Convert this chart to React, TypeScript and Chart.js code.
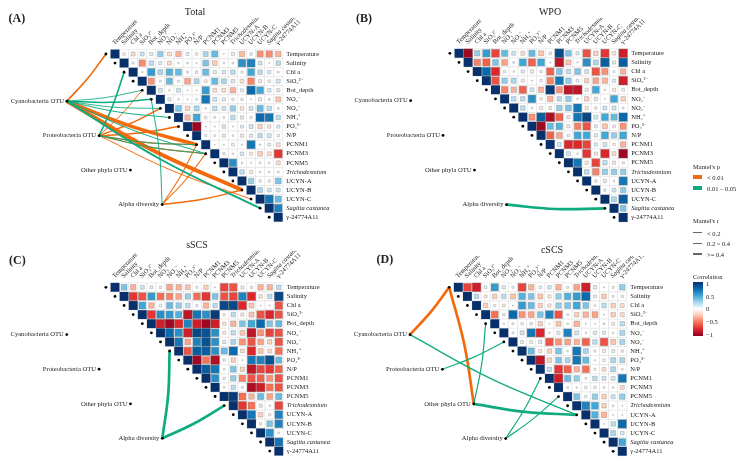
import React, { useEffect, useRef } from "react";
import { Chart, registerables } from "chart.js";

Chart.register(...registerables);

const variables = ["Temperature", "Salinity", "Chl a", "SiO₃²⁻", "Bot_depth", "NO₃⁻", "NO₂⁻", "NH₄⁺", "PO₄³⁻", "N/P", "PCNM1", "PCNM3", "PCNM5", "Trichodesmium", "UCYN-A", "UCYN-B", "UCYN-C", "Sagitta castanea", "γ-24774A11"];
const italicVariables = ["Trichodesmium", "Sagitta castanea"];
const groups = ["Cyanobacteria OTU", "Proteobacteria OTU", "Other phyla OTU", "Alpha diversity"];
const groupX = [-5.3, -1.75, 1.7, 5.2];
const groupY = [5.2, 9.0, 12.8, 16.6];

const totalCorr = [
  [-.06, -.15, .15, .1, .3, -.15, -.3, .08, -.06, .25, .4, .01, -.1, -.28, .06, -.4, -.42, -.3],
  [.04, -.42, .2, .1, -.15, .02, .03, .01, .35, -.22, -.02, -.03, .6, .65, .15, .01, .2],
  [.01, .55, .25, .45, .4, .04, .07, .4, .1, .12, .2, .04, .5, .2, .1, -.03],
  [-.4, .03, .4, -.04, -.35, .25, -.08, .4, .25, .12, -.15, -.45, -.1, -.06, .15],
  [.15, .02, .15, .01, .01, .55, -.15, -.15, -.3, .08, .75, .5, .12, .1],
  [.1, .02, -.01, .03, .7, .15, .1, .05, .05, .01, .1, .03, -.25],
  [.35, -.2, .25, .02, .2, .15, .3, -.12, .15, .4, .2, .03],
  [-.3, .5, -.06, .04, .03, .2, .1, .05, .75, .7, .2],
  [-.97, -.01, .01, .12, -.01, .08, .15, -.2, -.1, .1],
  [.04, .03, -.1, -.02, -.1, .1, .2, .15, .05],
  [-.005, .01, -.07, .01, .7, .02, .08, -.15],
  [.05, -.02, .12, -.08, -.22, -.15, -.7],
  [.6, .02, .01, .03, .02, -.15],
  [.2, -.1, .02, .02, .03],
  [.3, .05, .05, .35],
  [.25, .15, .15],
  [.7, .4],
  [.65],
];
const wpoCorr = [
  [-.95, .3, .55, -.65, .4, .15, -.15, .4, -.25, -.06, .88, .35, .1, -.6, -.2, -.7, -.12, -.8],
  [-.45, -.55, .35, -.35, .03, .5, -.55, .5, .01, -.85, -.25, .01, .6, .25, .8, .1, .8],
  [.75, -.75, .05, .02, .1, -.1, .05, -.55, .35, .2, .35, .15, -.6, -.4, .03, -.3],
  [-.6, .3, .25, -.08, .01, .05, -.45, .7, .3, .07, -.2, -.35, -.3, .1, -.8],
  [-.45, -.3, -.55, .15, -.3, .95, -.4, -.85, -.85, -.1, .5, .02, -.1, .07],
  [.2, .2, .6, -.05, -.3, .2, .3, .02, -.2, .1, .01, .5, -.2],
  [.2, .02, -.1, -.08, .3, .35, .7, -.1, -.05, .15, .15, -.03],
  [-.4, .8, -.9, -.55, .1, .7, .9, .15, .5, .4, .75],
  [-.95, .4, .45, -.1, -.45, -.6, .08, -.25, -.06, -.4],
  [-.55, -.35, .06, .5, .5, .1, .5, .3, .5],
  [.15, -.75, -.75, -.65, .1, .15, -.05, -.3],
  [.15, .02, -.7, -.1, -.75, -.15, -.95],
  [.7, -.1, -.65, .2, -.1, -.05],
  [.2, -.45, .3, .3, .3],
  [.05, .1, .02, .7],
  [.05, .15, .3],
  [.25, .8],
  [.35],
];
const sscsCorr = [
  [.35, -.3, .15, .08, -.05, -.35, -.3, -.25, .04, -.2, .01, -.65, -.6, .08, .05, -.3, -.3, .2],
  [-.7, -.6, .55, -.5, -.45, -.35, .3, -.5, -.7, .35, -.6, -.65, .65, -.75, -.12, .2, .9],
  [.5, -.3, .06, .4, .3, .2, .05, -.3, .2, .9, .9, -.75, -.25, .01, .01, -.6],
  [-.7, .6, .55, .45, -.85, .7, .6, .95, -.05, .2, -.1, -.25, -.6, -.75, -.6],
  [-.8, -.95, -.75, .65, -.8, -.95, -.8, -.1, -.3, .35, .5, .75, .35, .4],
  [.75, .6, -.8, .9, .85, .6, -.08, .2, -.25, -.85, -.4, -.65, -.6],
  [.7, -.35, .65, .85, .6, .1, .25, -.4, -.6, -.35, -.2, -.6],
  [-.6, .8, .8, .6, .4, .75, -.15, -.75, -.25, -.15, -.5],
  [-.95, -.5, -.9, .05, -.2, -.01, .7, .65, .85, .4],
  [.8, .7, .02, .35, -.2, -.85, -.65, -.7, -.55],
  [.6, .05, .3, -.45, -.6, -.55, -.4, -.6],
  [.02, .2, .04, -.9, -.8, -.5, -.6],
  [.95, -.5, -.3, .4, -.35, .4],
  [-.7, -.5, .1, .02, -.65],
  [.7, -.2, -.05, .65],
  [-.05, .35, .65],
  [.6, -.03],
  [.7],
];
const cscsCorr = [
  [-.65, -.8, .07, .55, .1, .04, -.65, -.3, .07, .12, -.3, -.04, -.35, -.8, -.12, -.01, -.04, .3],
  [.2, -.08, -.2, .2, -.25, .45, .35, -.25, -.1, .3, .45, .55, .75, .08, -.22, .03, -.05],
  [-.2, .04, -.07, -.01, .55, .4, -.2, -.1, .3, .35, .5, .35, .02, .2, -.2, -.15],
  [-.5, .06, .75, -.4, -.35, .35, .65, -.6, .03, -.2, -.3, -.35, -.01, -.2, -.15],
  [.02, .04, .05, .06, -.2, -.01, -.25, -.02, -.3, -.01, .01, -.03, -.08, .2],
  [.03, .15, .7, -.75, .02, .1, .65, .15, .02, .1, .08, .02, .25],
  [-.08, -.07, .1, -.6, -.4, -.35, -.3, -.55, .2, -.6, -.25, .25],
  [.4, -.1, -.2, .35, .02, .7, .25, -.04, -.08, .08, -.05],
  [-.85, -.2, .35, .25, .7, .4, .01, -.06, .25, .25],
  [.2, -.7, -.55, -.3, -.5, -.04, -.15, .25, -.03],
  [-.8, .4, .3, .03, .2, .15, .15, .7],
  [.03, .02, -.05, .05, .03, -.02, -.15],
  [.35, .05, .3, -.2, .15, .3],
  [.65, .5, -.2, .03, .01],
  [.45, -.3, .01, .01],
  [.01, .2, .75],
  [.25, .12],
  [.5],
];

// Mantel links: [group index, variable index, Mantel's p class (0: < 0.01, 1: 0.01-0.05), Mantel's r]
const totalLinks = [
  [0, 0, 0, .26], [0, 4, 1, .1], [0, 5, 1, .22], [0, 6, 1, .1], [0, 7, 1, .12], [0, 10, 0, .62], [0, 11, 1, .12], [0, 15, 0, .7], [0, 17, 1, .3],
  [1, 2, 1, .24], [1, 4, 0, .12], [1, 6, 0, .22], [1, 8, 0, .22], [1, 10, 0, .2], [1, 10, 1, .1], [1, 11, 0, .16], [1, 11, 1, .1], [1, 16, 0, .12],
  [3, 5, 1, .12], [3, 10, 0, .14], [3, 11, 0, .14], [3, 15, 0, .22],
];
const wpoLinks = [[3, 17, 1, .45]];
const sscsLinks = [[3, 7, 1, .45], [3, 13, 1, .45]];
const cscsLinks = [
  [0, 0, 0, .45], [0, 14, 1, .18], [2, 0, 0, .45], [2, 14, 1, .45], [2, 4, 1, .16],
  [1, 6, 1, .16], [3, 10, 1, .16], [3, 12, 1, .16],
];

const linkColors = ["#f26a0c", "#0dab7d"];
const colorStops: [number, number[]][] = [
  [-1, [143, 0, 32]], [-.75, [220, 38, 44]], [-.5, [248, 112, 84]], [-.25, [253, 196, 172]], [0, [255, 255, 255]],
  [.25, [168, 215, 236]], [.5, [62, 168, 216]], [.75, [10, 105, 172]], [1, [8, 48, 107]],
];
const serif = "'Liberation Serif', serif";

function corrColor(r: number) {
  for (let i = 1; i < colorStops.length; i++) {
    if (r <= colorStops[i][0]) {
      const [a, ca] = colorStops[i - 1];
      const [b, cb] = colorStops[i];
      const t = (r - a) / (b - a);
      return `rgb(${ca.map((c, k) => Math.round(c + (cb[k] - c) * t)).join(",")})`;
    }
  }
  return "rgb(8,48,107)";
}

const groupLabels = {
  id: "groupLabels",
  afterDatasetsDraw(chart: any) {
    const { ctx, scales } = chart;
    ctx.save();
    ctx.font = `6.6px ${serif}`;
    ctx.fillStyle = "#222";
    ctx.textAlign = "right";
    ctx.textBaseline = "middle";
    groups.forEach((g, i) => {
      ctx.fillText(g, scales.x.getPixelForValue(groupX[i]) - 3, scales.y.getPixelForValue(groupY[i]));
    });
    ctx.restore();
  },
};

function Panel({ title, corr, links, left, top, width, height, cx, cy, step, titlePad }: any) {
  const ref = useRef<HTMLCanvasElement>(null);
  useEffect(() => {
    const n = variables.length;
    const cells: any[] = [];
    const background: any[] = [];
    variables.forEach((_, i) => {
      cells.push({ x: i, y: i, r: 1 });
      background.push({ x: i, y: i });
      corr[i]?.forEach((r: number, k: number) => {
        cells.push({ x: i + k + 1, y: i, r });
        background.push({ x: i + k + 1, y: i });
      });
    });
    const anchors = variables.map((_, i) => ({ x: i - 1, y: i }));
    const nodes = groups.map((_, i) => ({ x: groupX[i], y: groupY[i] }));
    const bend = 0.025;
    const linkSets = links.map(([g, v, p, r]: number[]) => {
      const a = nodes[g];
      const b = anchors[v];
      const dx = b.x - a.x;
      const dy = b.y - a.y;
      return {
        data: [a, { x: (a.x + b.x) / 2 - dy * bend, y: (a.y + b.y) / 2 + dx * bend }, b],
        showLine: true,
        tension: 0.4,
        borderColor: linkColors[p],
        borderWidth: 0.35 + r * 5.2,
        pointRadius: 0,
        clip: false,
        order: 3 - p,
      };
    });
    const titleHeight = titlePad + 12;
    const areaTop = cy - step / 2 - top;
    const axisHeight = areaTop - titleHeight;
    const areaRight = cx + (n - 0.5) * step;
    const axisWidth = left + width - areaRight;
    const areaBottom = cy + (n - 0.5) * step;
    const fixedTicks = (scale: any) => {
      scale.ticks = variables.map((_, i) => ({ value: i }));
    };
    const tickFont = (ctx: any) => ({
      family: serif,
      size: 6.5,
      style: italicVariables.includes(variables[ctx.index]) ? "italic" : "normal",
    });
    const squareSide = (r: number) => step * Math.min(1, 1.08 * Math.pow(Math.abs(r), 0.45));
    const chart = new Chart(ref.current as any, {
      type: "scatter",
      data: {
        datasets: [
          {
            data: anchors.concat(nodes),
            pointRadius: 1.4,
            pointBackgroundColor: "#000",
            pointBorderWidth: 0,
            clip: false,
            order: 0,
          },
          ...linkSets,
          {
            data: cells,
            pointStyle: "rect",
            pointRadius: (c: any) => squareSide(c.raw?.r ?? 0) / Math.SQRT2 - 0.15,
            pointBackgroundColor: (c: any) => corrColor(c.raw?.r ?? 0),
            pointBorderColor: "rgba(120,120,120,0.65)",
            pointBorderWidth: (c: any) => (c.raw?.r === 1 ? 0 : 0.5),
            clip: false,
            order: 5,
          },
          {
            data: background,
            pointStyle: "rect",
            pointRadius: step / Math.SQRT2,
            pointBackgroundColor: "#fff",
            pointBorderColor: "#dcdcdc",
            pointBorderWidth: 0.5,
            clip: false,
            order: 6,
          },
        ] as any,
      },
      options: {
        responsive: false,
        animation: false,
        events: [],
        layout: { autoPadding: false, padding: { left: 0, right: 0, top: 0, bottom: top + height - areaBottom } },
        plugins: {
          legend: { display: false },
          tooltip: { enabled: false },
          title: {
            display: true,
            text: title,
            color: "#222",
            font: { family: serif, size: 10, weight: "normal", lineHeight: 1.2 },
            padding: { top: titlePad, bottom: 0 },
          },
        },
        scales: {
          x: {
            type: "linear",
            position: "top",
            min: (left - cx) / step,
            max: n - 0.5,
            grid: { display: false, drawTicks: false },
            border: { display: false },
            afterBuildTicks: fixedTicks,
            afterFit(scale: any) {
              scale.height = axisHeight;
              scale.paddingLeft = 0;
              scale.paddingRight = 0;
            },
            ticks: {
              autoSkip: false,
              minRotation: 45,
              maxRotation: 45,
              padding: 3,
              labelOffset: 4,
              color: "#222",
              font: tickFont,
              callback: (v: any) => variables[v],
            },
          },
          y: {
            type: "linear",
            position: "right",
            reverse: true,
            min: -0.5,
            max: n - 0.5,
            grid: { display: false, drawTicks: false },
            border: { display: false },
            afterBuildTicks: fixedTicks,
            afterFit(scale: any) {
              scale.width = axisWidth;
              scale.paddingTop = 0;
              scale.paddingBottom = 0;
            },
            ticks: {
              autoSkip: false,
              padding: 3.5,
              color: "#222",
              font: tickFont,
              callback: (v: any) => variables[v],
            },
          },
        },
      } as any,
      plugins: [groupLabels],
    });
    return () => chart.destroy();
  }, []);
  return <canvas ref={ref} width={width} height={height} style={{ position: "absolute", left, top, width, height }} />;
}

function Txt({ x, y, children, size = 6.5, bold = false }: any) {
  return (
    <div style={{ position: "absolute", left: x, top: y, transform: "translateY(-50%)", font: `${bold ? "bold " : ""}${size}px ${serif}`, color: "#222", whiteSpace: "nowrap" }}>
      {children}
    </div>
  );
}

function Box({ x, y, w, h, bg }: any) {
  return <div style={{ position: "absolute", left: x, top: y, width: w, height: h, background: bg }} />;
}

export default function App() {
  const gradient = "linear-gradient(to bottom," + [...colorStops].reverse().map(([, c]) => `rgb(${c.join(",")})`).join(",") + ")";
  return (
    <div style={{ position: "absolute", left: 0, top: 0, width: 742, height: 462, overflow: "hidden", background: "#fff" }}>
      <Panel title="Total" corr={totalCorr} links={totalLinks} left={0} top={0} width={390} height={226} cx={115} cy={54} step={9.07} titlePad={6} />
      <Panel title="WPO" corr={wpoCorr} links={wpoLinks} left={352} top={0} width={396} height={226} cx={459} cy={53.3} step={9.12} titlePad={6} />
      <Panel title="sSCS" corr={sscsCorr} links={sscsLinks} left={0} top={232} width={394} height={228} cx={115} cy={287.3} step={9.1} titlePad={7} />
      <Panel title="cSCS" corr={cscsCorr} links={cscsLinks} left={350} top={232} width={404} height={228} cx={458.3} cy={287.3} step={9.11} titlePad={12} />
      <Txt x={8.5} y={18} size={12} bold>(A)</Txt>
      <Txt x={356} y={18} size={12} bold>(B)</Txt>
      <Txt x={9} y={260} size={12} bold>(C)</Txt>
      <Txt x={376.5} y={259} size={12} bold>(D)</Txt>
      <Txt x={693} y={165.7}>Mantel's p</Txt>
      <Box x={693.3} y={175.3} w={9} h={4} bg={linkColors[0]} />
      <Txt x={707} y={177.3}>&lt; 0.01</Txt>
      <Box x={693.3} y={185.7} w={9} h={4} bg={linkColors[1]} />
      <Txt x={707} y={187.7}>0.01 – 0.05</Txt>
      <Txt x={693} y={220.3}>Mantel's r</Txt>
      <Box x={693.3} y={232.2} w={9} h={0.8} bg="#666" />
      <Box x={693.3} y={242.5} w={9} h={1.5} bg="#666" />
      <Box x={693.3} y={252.5} w={9} h={2.5} bg="#666" />
      <Txt x={707} y={232.7}>&lt; 0.2</Txt>
      <Txt x={707} y={243.3}>0.2 ~ 0.4</Txt>
      <Txt x={707} y={253.7}>&gt;= 0.4</Txt>
      <Txt x={693} y={276}>Correlation</Txt>
      <Box x={693} y={282.3} w={10} h={53.7} bg={gradient} />
      <Txt x={706} y={283}>1</Txt>
      <Txt x={706} y={295.7}>0.5</Txt>
      <Txt x={706} y={308.3}>0</Txt>
      <Txt x={706} y={321}>−0.5</Txt>
      <Txt x={706} y={334}>−1</Txt>
    </div>
  );
}
